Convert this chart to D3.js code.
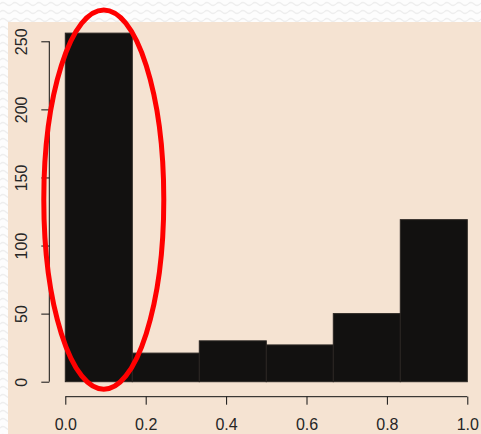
<!DOCTYPE html>
<html>
<head>
<meta charset="utf-8">
<script src="https://cdn.jsdelivr.net/npm/d3@7"></script>
<style>
  html, body { margin: 0; padding: 0; background: #fff; }
  svg { display: block; }
</style>
</head>
<body>
<div id="chart"></div>
<script>
// histogram bins (breaks) and counts
const breaks = [0, 1/6, 2/6, 3/6, 4/6, 5/6, 1];
const counts = [256, 21, 30, 27, 50, 119];
const xTicks = [0, 0.2, 0.4, 0.6, 0.8, 1.0];
const yTicks = [0, 50, 100, 150, 200, 250];
// highlight ellipse around the first bin, in data units
const highlight = { x0: -0.0535, x1: 0.2450, y0: -5.5, y1: 273 };

const W = 481, H = 434;
const svg = d3.select("#chart").append("svg").attr("width", W).attr("height", H);

// faint wavy pattern on the white margin
const defs = svg.append("defs");
const pat = defs.append("pattern").attr("id", "wave")
    .attr("width", 12).attr("height", 8).attr("patternUnits", "userSpaceOnUse");
pat.append("rect").attr("width", 12).attr("height", 8).attr("fill", "#fdfdfd");
pat.append("path").attr("d", "M0,4 Q3,1 6,4 T12,4")
    .attr("fill", "none").attr("stroke", "#eeeeee").attr("stroke-width", 1.2);
svg.append("rect").attr("width", W).attr("height", H).attr("fill", "url(#wave)");

// plot panel background
svg.append("rect").attr("x", 8).attr("y", 22).attr("width", W - 8).attr("height", H - 22)
    .attr("fill", "#f5e3d2");

const x = d3.scaleLinear().domain([0, 1]).range([65.3, 467.3]);
const y = d3.scaleLinear().domain([0, 250]).range([381.7, 41.3]);

const bins = counts.map((c, i) => ({ x0: breaks[i], x1: breaks[i + 1], n: c }));

svg.append("g").selectAll("rect")
    .data(bins)
    .enter().append("rect")
    .attr("x", d => x(d.x0))
    .attr("y", d => y(d.n))
    .attr("width", d => x(d.x1) - x(d.x0))
    .attr("height", d => y(0) - y(d.n))
    .attr("fill", "#121110")
    .attr("stroke", "#2a2622")
    .attr("stroke-width", 1);

// axes
const font = "'Liberation Sans', Arial, Helvetica, sans-serif";

const gx = svg.append("g").attr("transform", "translate(0,396.7)")
    .call(d3.axisBottom(x).tickValues(xTicks).tickSize(8).tickSizeOuter(0).tickFormat(d3.format(".1f")));
gx.select(".domain").attr("stroke", "#111").attr("d", `M${x(0)},0H${x(1)}`);
gx.selectAll(".tick line").attr("stroke", "#111");
gx.selectAll(".tick text")
    .attr("y", 33.8).attr("dy", 0)
    .attr("font-family", font).attr("font-size", 16).attr("fill", "#262626");

const gy = svg.append("g").attr("transform", "translate(49.3,0)")
    .call(d3.axisLeft(y).tickValues(yTicks).tickSize(8).tickSizeOuter(0));
gy.select(".domain").attr("stroke", "#111").attr("d", `M0,${y(0)}V${y(250)}`);
gy.selectAll(".tick line").attr("stroke", "#111");
gy.selectAll(".tick text")
    .attr("x", null).attr("dy", null)
    .attr("transform", "translate(-22,0) rotate(-90)")
    .attr("text-anchor", "middle")
    .attr("font-family", font).attr("font-size", 16).attr("fill", "#262626");

// red highlight ellipse
svg.append("ellipse")
    .attr("cx", (x(highlight.x0) + x(highlight.x1)) / 2)
    .attr("cy", (y(highlight.y0) + y(highlight.y1)) / 2)
    .attr("rx", (x(highlight.x1) - x(highlight.x0)) / 2)
    .attr("ry", (y(highlight.y0) - y(highlight.y1)) / 2)
    .attr("fill", "none")
    .attr("stroke", "#ff0000")
    .attr("stroke-width", 5);
</script>
</body>
</html>
